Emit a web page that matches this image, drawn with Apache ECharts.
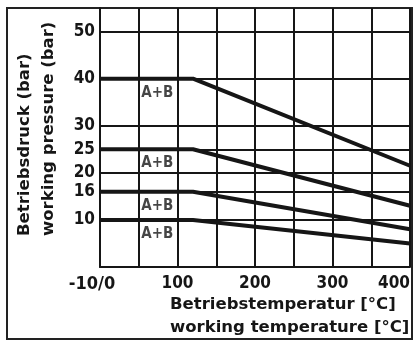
<!DOCTYPE html>
<html>
<head>
<meta charset="utf-8">
<script src="https://cdn.jsdelivr.net/npm/echarts@6/dist/echarts.min.js"></script>
<style>
  html, body { margin: 0; padding: 0; background: #fff; }
  #main { width: 413px; height: 340px; }
</style>
</head>
<body>
<div id="main"></div>
<script>
// temperatures (°C) where the curves bend
var temps = [0, 120, 400]
// pressure curves (bar)
var p40 = [40, 40, 21.5]
var p25 = [25, 25, 13]
var p16 = [16, 16, 8]
var p10 = [10, 10, 5]
var yTicks = [10, 16, 20, 25, 30, 40, 50]
var labelTemp = 74
var labelText = 'A+B'

var font = '"DejaVu Sans Condensed", "DejaVu Sans", sans-serif'
var titleFont = 'bold 16.5px "DejaVu Sans", sans-serif'
var ink = '#161616'

var curve = function (vals) {
    return {
        type: 'line',
        data: temps.map((t, i) => [t, vals[i]]),
        symbol: 'none',
        lineStyle: { color: ink, width: 4 },
        z: 5
    }
}

var series = [p40, p25, p16, p10].map(curve)
// horizontal grid at the labelled pressures
series[0].markLine = {
    symbol: 'none',
    silent: true,
    label: { show: false },
    lineStyle: { color: ink, width: 2, type: 'solid' },
    data: yTicks.map(v => ({ yAxis: v }))
}
series.push({
    type: 'scatter',
    symbolSize: 1,
    itemStyle: { color: 'transparent' },
    data: [p40[0], p25[0], p16[0], p10[0]].map(v => [labelTemp, v]),
    label: {
        show: true,
        position: 'bottom',
        distance: 6,
        formatter: labelText,
        color: ink,
        fontFamily: font,
        fontWeight: 'bold',
        fontSize: 15
    },
    z: 6
})

var chart = echarts.init(document.getElementById('main'))
chart.setOption({
    animation: false,
    grid: { left: 100, top: 8, right: 0, bottom: 73 },
    xAxis: {
        type: 'value',
        min: 0,
        max: 400,
        interval: 50,
        axisLine: { lineStyle: { color: ink, width: 2 } },
        axisTick: { show: false },
        splitLine: { show: true, lineStyle: { color: ink, width: 2 } },
        axisLabel: {
            margin: 8,
            color: ink,
            fontFamily: font,
            fontWeight: 'bold',
            fontSize: 17,
            alignMaxLabel: 'right',
            formatter: function (v) {
                if (v === 0) return '{m|-10/0}'
                return v % 100 === 0 ? String(v) : ''
            },
            rich: { m: { padding: [0, 16, 0, 0], fontFamily: font, fontWeight: 'bold', fontSize: 18, color: ink } }
        }
    },
    yAxis: {
        type: 'value',
        min: 0,
        max: 55,
        axisLine: { show: true, lineStyle: { color: ink, width: 2 } },
        axisTick: { show: false },
        splitLine: { show: false },
        axisLabel: {
            customValues: yTicks,
            margin: 5,
            color: ink,
            fontFamily: font,
            fontWeight: 'bold',
            fontSize: 17
        }
    },
    graphic: [
        {
            type: 'rect',
            shape: { x: 7, y: 8, width: 405, height: 331 },
            style: { fill: 'none', stroke: '#222', lineWidth: 2 },
            silent: true
        },
        {
            type: 'text', x: 25, y: 236, rotation: Math.PI / 2,
            style: { text: 'Betriebsdruck (bar)', fill: ink, font: titleFont, textAlign: 'left', textVerticalAlign: 'middle' }
        },
        {
            type: 'text', x: 49, y: 236, rotation: Math.PI / 2,
            style: { text: 'working pressure (bar)', fill: ink, font: titleFont, textAlign: 'left', textVerticalAlign: 'middle' }
        },
        {
            type: 'text', x: 170, y: 305,
            style: { text: 'Betriebstemperatur [°C]', fill: ink, font: titleFont, textAlign: 'left', textVerticalAlign: 'middle' }
        },
        {
            type: 'text', x: 170, y: 328,
            style: { text: 'working temperature [°C]', fill: ink, font: titleFont, textAlign: 'left', textVerticalAlign: 'middle' }
        }
    ],
    series: series
})
</script>
</body>
</html>
